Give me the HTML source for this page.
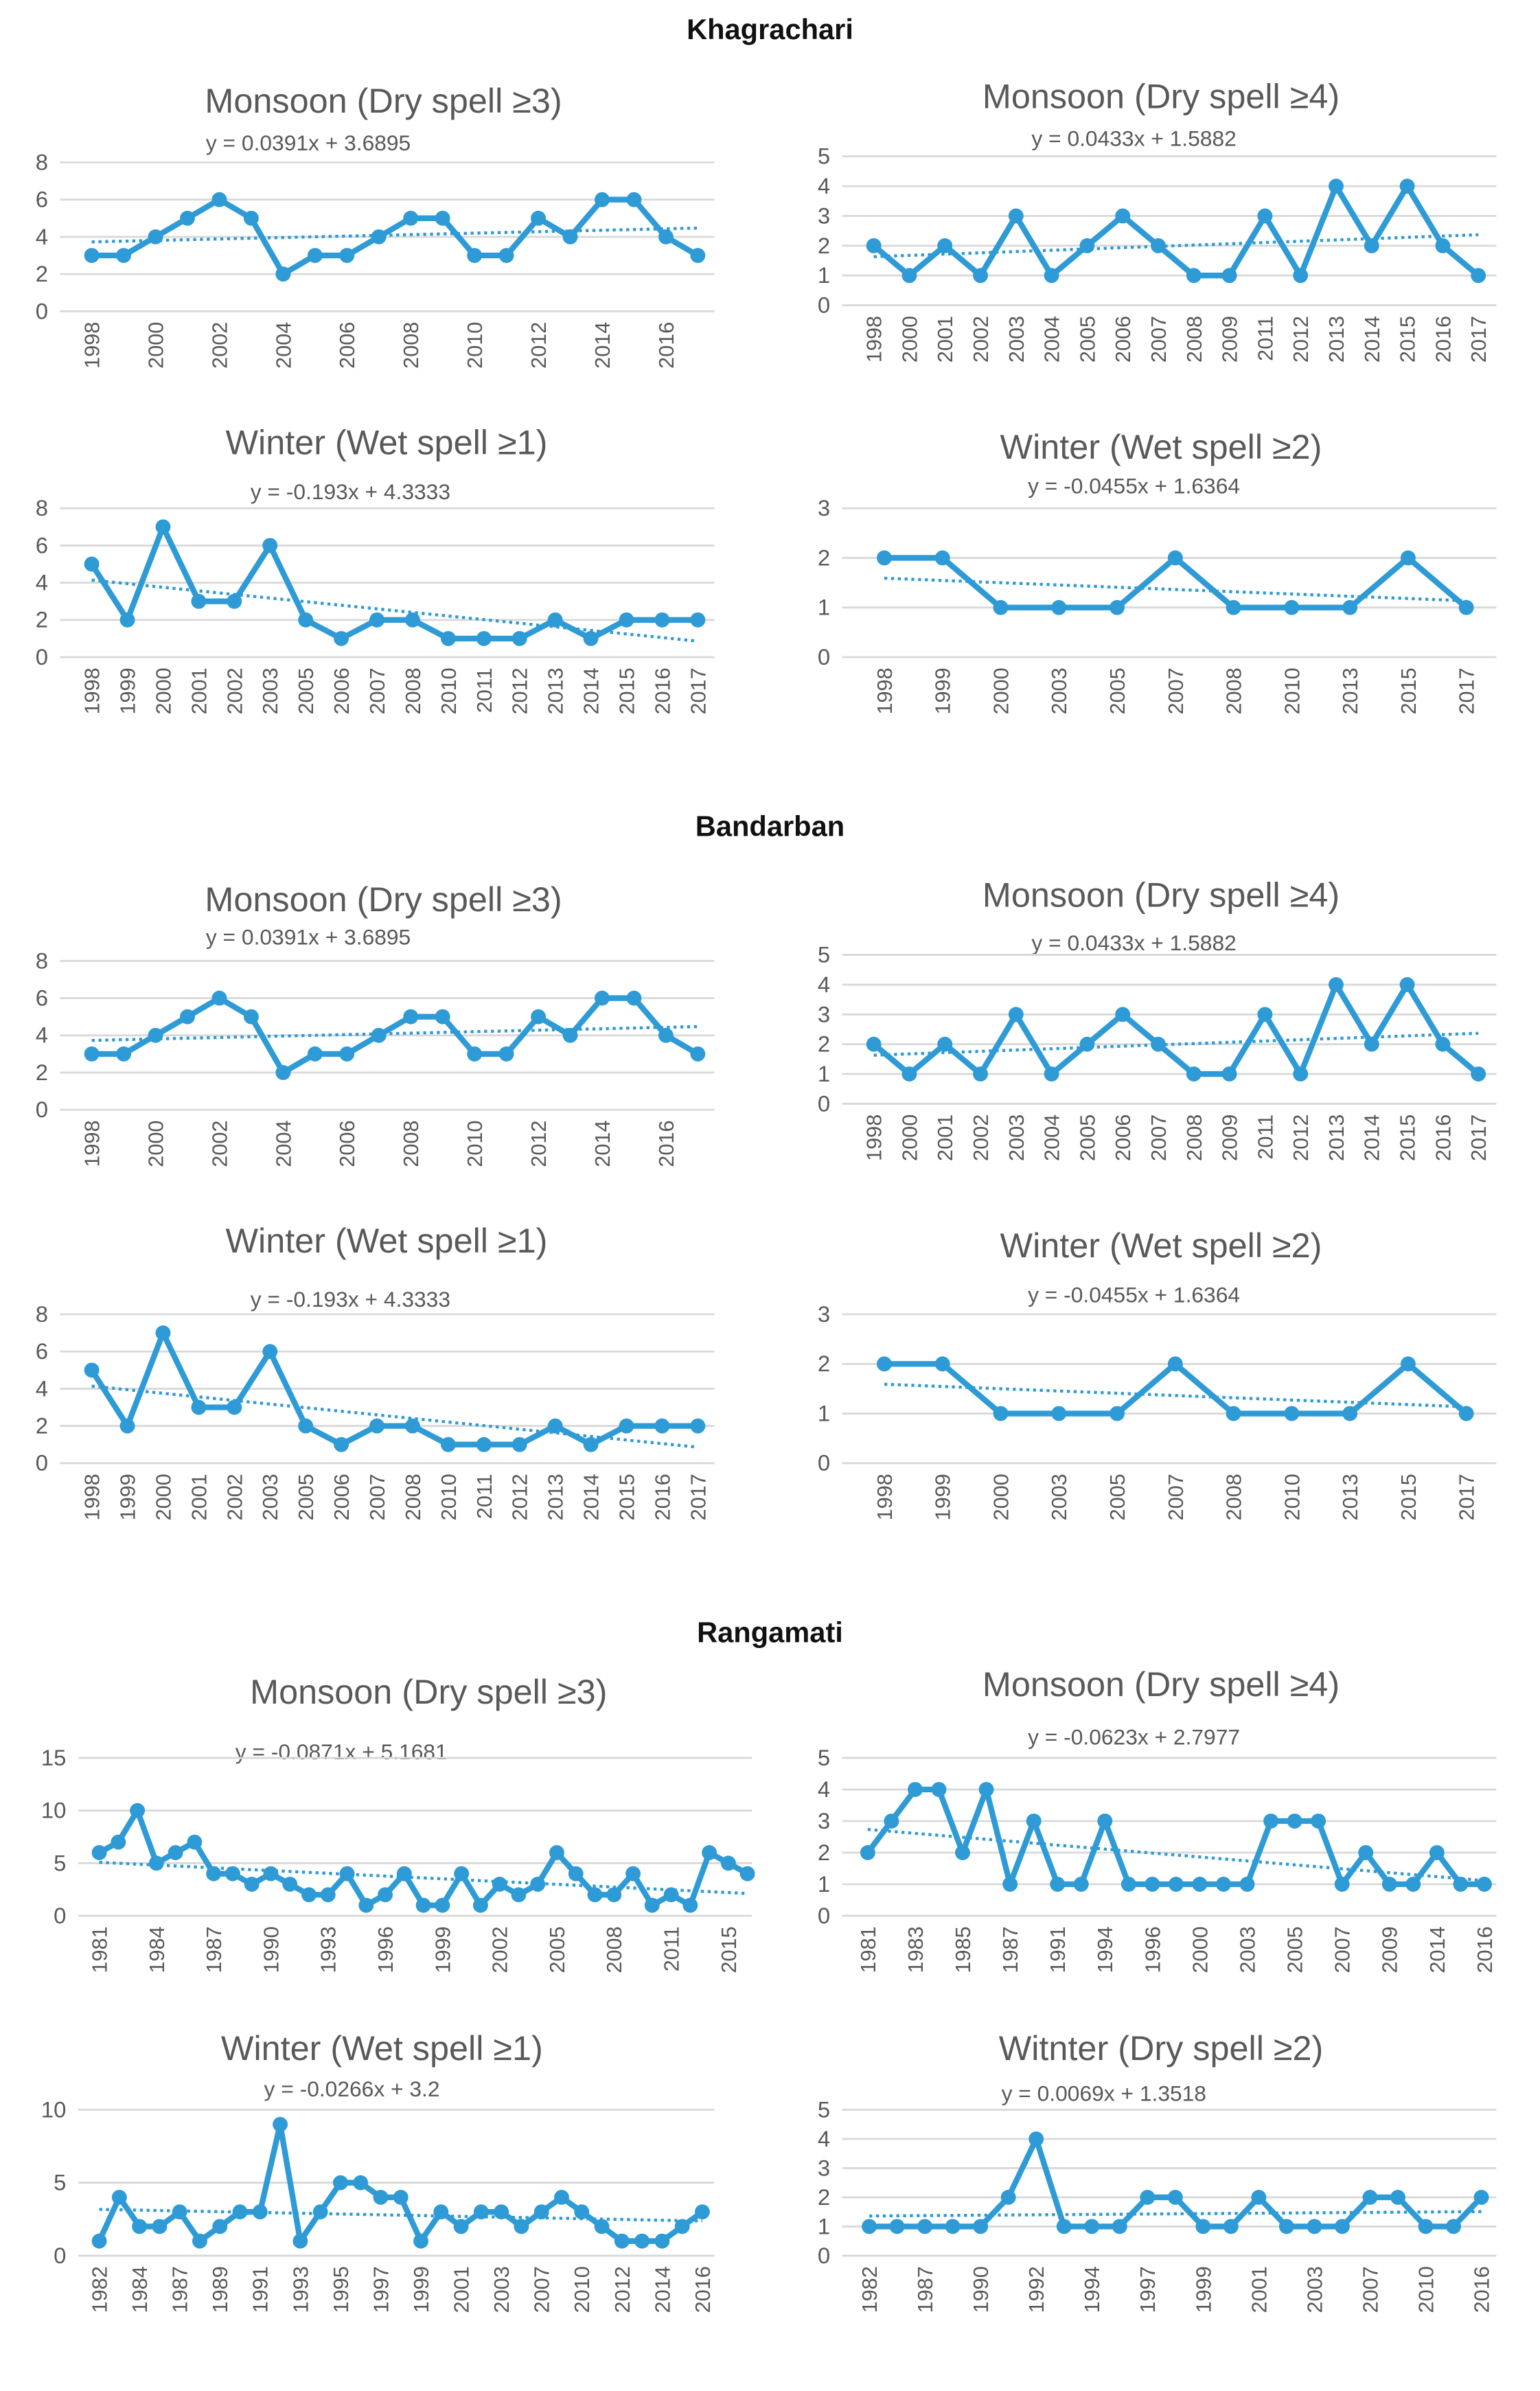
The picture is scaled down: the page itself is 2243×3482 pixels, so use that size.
<!DOCTYPE html>
<html><head><meta charset="utf-8">
<style>
html,body{margin:0;padding:0;background:#fff;}
svg{display:block;}
text{font-family:"Liberation Sans",sans-serif;}
</style></head>
<body>
<svg id="fig" width="2243" height="3482" viewBox="0 0 1024 1590" preserveAspectRatio="none" xmlns="http://www.w3.org/2000/svg">
<text x="512" y="26" text-anchor="middle" font-size="19" font-weight="bold" fill="#111">Khagrachari</text>
<text x="512" y="556" text-anchor="middle" font-size="19" font-weight="bold" fill="#111">Bandarban</text>
<text x="512" y="1092" text-anchor="middle" font-size="19" font-weight="bold" fill="#111">Rangamati</text>
</svg>
<script>
// ---- data ----
const kMonsoon3Years = ["1998","1999","2000","2001","2002","2003","2004","2005","2006","2007","2008","2009","2010","2011","2012","2013","2014","2015","2016","2017"];
const kMonsoon3Values = [3,3,4,5,6,5,2,3,3,4,5,5,3,3,5,4,6,6,4,3];
const kMonsoon4Years = ["1998","2000","2001","2002","2003","2004","2005","2006","2007","2008","2009","2011","2012","2013","2014","2015","2016","2017"];
const kMonsoon4Values = [2,1,2,1,3,1,2,3,2,1,1,3,1,4,2,4,2,1];
const kWinter1Years = ["1998","1999","2000","2001","2002","2003","2005","2006","2007","2008","2010","2011","2012","2013","2014","2015","2016","2017"];
const kWinter1Values = [5,2,7,3,3,6,2,1,2,2,1,1,1,2,1,2,2,2];
const kWinter2Years = ["1998","1999","2000","2003","2005","2007","2008","2010","2013","2015","2017"];
const kWinter2Values = [2,2,1,1,1,2,1,1,1,2,1];
const rMonsoon3Years = ["1981","1982","1983","1984","1985","1986","1987","1988","1989","1990","1991","1992","1993","1994","1995","1996","1997","1998","1999","2000","2001","2002","2003","2004","2005","2006","2007","2008","2009","2010","2011","2012","2013","2015","2016"];
const rMonsoon3Values = [6,7,10,5,6,7,4,4,3,4,3,2,2,4,1,2,4,1,1,4,1,3,2,3,6,4,2,2,4,1,2,1,6,5,4];
const rMonsoon4Years = ["1981","1982","1983","1984","1985","1986","1987","1989","1991","1993","1994","1995","1996","1998","2000","2001","2003","2004","2005","2006","2007","2008","2009","2011","2014","2015","2016"];
const rMonsoon4Values = [2,3,4,4,2,4,1,3,1,1,3,1,1,1,1,1,1,3,3,3,1,2,1,1,2,1,1];
const rWinter1Years = ["1982","1983","1984","1986","1987","1988","1989","1990","1991","1992","1993","1994","1995","1996","1997","1998","1999","2000","2001","2002","2003","2006","2007","2008","2010","2011","2012","2013","2014","2015","2016"];
const rWinter1Values = [1,4,2,2,3,1,2,3,3,9,1,3,5,5,4,4,1,3,2,3,3,2,3,4,3,2,1,1,1,2,3];
const rWinter2Years = ["1982","1985","1987","1989","1990","1991","1992","1993","1994","1995","1997","1998","1999","2000","2001","2002","2003","2005","2007","2008","2010","2013","2016"];
const rWinter2Values = [1,1,1,1,1,2,4,1,1,1,2,2,1,1,2,1,1,1,2,2,1,1,2];
const trendSlopes = [0.0391,0.0433,-0.193,-0.0455,-0.0871,-0.0623,-0.0266,0.0069];
const trendIntercepts = [3.6895,1.5882,4.3333,1.6364,5.1681,2.7977,3.2,1.3518];

const NS="http://www.w3.org/2000/svg";
const svg=document.getElementById('fig');
const BLUE="#2e9bd6";
function mk(tag,attrs,parent){const e=document.createElementNS(NS,tag);for(const k in attrs)e.setAttribute(k,attrs[k]);(parent||svg).appendChild(e);return e;}

function chart(o){
  const g=mk('g',{});
  
  
  const n=o.values.length;
  const xs=i=>o.px0+(o.px1-o.px0)*i/(n-1);
  const ys=v=>o.yb-(o.yb-o.yt)*v/o.ymax;
  const t=mk('text',{x:o.tx,y:o.ty,'text-anchor':'middle','font-size':23,fill:'#595959'},g);
  t.textContent=o.title;
  
  
  const eq=mk('text',{x:o.ex,y:o.ey,'text-anchor':'middle','font-size':14.5,fill:'#595959'},g);
  eq.textContent=o.eq;
  
  
  for(let v=0;v<=o.ymax;v+=o.step){
    const gl=mk('line',{x1:o.gx0,x2:o.gx1,y1:ys(v),y2:ys(v),stroke:'#d9d9d9','stroke-width':1.3},g);
    
    
    const yl=mk('text',{x:o.gx0-8,y:ys(v)+5,'text-anchor':'end','font-size':15,fill:'#595959'},g);
    yl.textContent=v;
    
    
  }
  for(let i=0;i<n;i+=o.every){
    const x=xs(i),y=o.yb+7;
    const xl=mk('text',{x:x+5,y:y,'text-anchor':'end','font-size':14,fill:'#595959',transform:`rotate(-90 ${x+5} ${y})`},g);
    xl.textContent=o.years[i];
    
    
  }
  const tr=mk('line',{x1:xs(0),y1:ys(o.slope*1+o.icpt),x2:xs(n-1),y2:ys(o.slope*n+o.icpt),stroke:BLUE,'stroke-width':2,'stroke-dasharray':'2 2.5'},g);
  
  
  const pts=o.values.map((v,i)=>xs(i)+','+ys(v)).join(' ');
  const pl=mk('polyline',{points:pts,fill:'none',stroke:BLUE,'stroke-width':3.8,'stroke-linejoin':'round'},g);
  
  
  o.values.forEach((v,i)=>{
    const c=mk('circle',{cx:xs(i),cy:ys(v),r:5,fill:BLUE},g);
    
    
  });
}

const eqText=(i)=>'y = '+trendSlopes[i]+'x + '+trendIntercepts[i];
function regionCharts(prefix,off,yOffs){
  chart({name:prefix+'-monsoon-dry-3',title:'Monsoon (Dry spell \u22653)',tx:255,ty:75+off+yOffs[0],ex:205,ey:100+off+yOffs[1],eq:eqText(0),years:kMonsoon3Years,values:kMonsoon3Values,ymax:8,step:2,yt:108+off+yOffs[2],yb:207+off+yOffs[2],gx0:40,gx1:475,px0:61,px1:464,every:2,slope:trendSlopes[0],icpt:trendIntercepts[0]});
  chart({name:prefix+'-monsoon-dry-4',title:'Monsoon (Dry spell \u22654)',tx:772,ty:72+off+yOffs[0],ex:754,ey:97+off+yOffs[3],eq:eqText(1),years:kMonsoon4Years,values:kMonsoon4Values,ymax:5,step:1,yt:104+off+yOffs[2],yb:203+off+yOffs[2],gx0:560,gx1:995,px0:581,px1:983,every:1,slope:trendSlopes[1],icpt:trendIntercepts[1]});
  chart({name:prefix+'-winter-wet-1',title:'Winter (Wet spell \u22651)',tx:257,ty:302+off+yOffs[4],ex:233,ey:332+off+yOffs[5],eq:eqText(2),years:kWinter1Years,values:kWinter1Values,ymax:8,step:2,yt:338+off+yOffs[6],yb:437+off+yOffs[6],gx0:40,gx1:475,px0:61,px1:464,every:1,slope:trendSlopes[2],icpt:trendIntercepts[2]});
  chart({name:prefix+'-winter-wet-2',title:'Winter (Wet spell \u22652)',tx:772,ty:305+off+yOffs[4],ex:754,ey:328+off+yOffs[7],eq:eqText(3),years:kWinter2Years,values:kWinter2Values,ymax:3,step:1,yt:338+off+yOffs[6],yb:437+off+yOffs[6],gx0:560,gx1:995,px0:588,px1:975,every:1,slope:trendSlopes[3],icpt:trendIntercepts[3]});
}
regionCharts('khagrachari',0,[0,0,0,0,0,0,0,0]);
regionCharts('bandarban',531,[0,-3,0,4,0,6,5,7]);

chart({name:'rangamati-monsoon-dry-3',title:'Monsoon (Dry spell \u22653)',tx:285,ty:1133,ex:227,ey:1170,eq:eqText(4),years:rMonsoon3Years,values:rMonsoon3Values,ymax:15,step:5,yt:1169,yb:1274,gx0:52,gx1:500,px0:66,px1:497,every:3,slope:trendSlopes[4],icpt:trendIntercepts[4]});
chart({name:'rangamati-monsoon-dry-4',title:'Monsoon (Dry spell \u22654)',tx:772,ty:1128,ex:754,ey:1160,eq:eqText(5),years:rMonsoon4Years,values:rMonsoon4Values,ymax:5,step:1,yt:1169,yb:1274,gx0:560,gx1:995,px0:577,px1:987,every:2,slope:trendSlopes[5],icpt:trendIntercepts[5]});
chart({name:'rangamati-winter-wet-1',title:'Winter  (Wet spell \u22651)',tx:254,ty:1370,ex:234,ey:1394,eq:eqText(6),years:rWinter1Years,values:rWinter1Values,ymax:10,step:5,yt:1403,yb:1500,gx0:52,gx1:475,px0:66,px1:467,every:2,slope:trendSlopes[6],icpt:trendIntercepts[6]});
chart({name:'rangamati-winter-dry-2',title:'Witnter (Dry spell \u22652)',tx:772,ty:1370,ex:734,ey:1397,eq:eqText(7),years:rWinter2Years,values:rWinter2Values,ymax:5,step:1,yt:1403,yb:1500,gx0:560,gx1:995,px0:578,px1:985,every:2,slope:trendSlopes[7],icpt:trendIntercepts[7]});
</script>
</body></html>
